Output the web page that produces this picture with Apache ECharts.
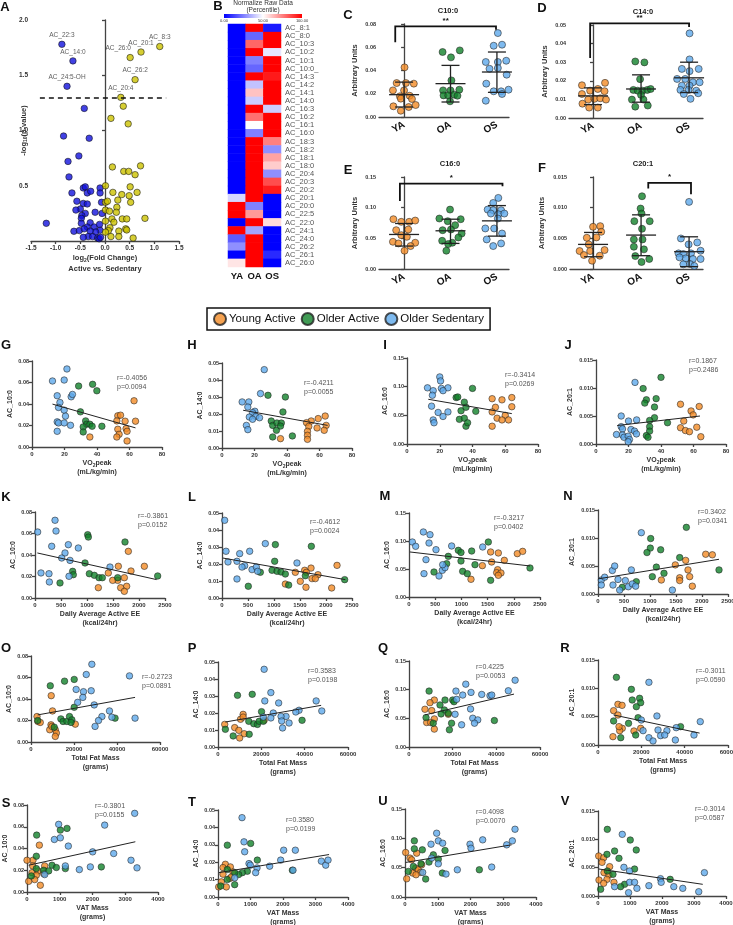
<!DOCTYPE html>
<html><head><meta charset="utf-8">
<script src="https://cdn.jsdelivr.net/npm/echarts@6/dist/echarts.min.js"></script>
<style>html,body{margin:0;padding:0;background:#fff}#c{width:733px;height:925px}</style>
</head><body><div id="c"></div><script>
const FONT = 'Liberation Sans, Arial, sans-serif';
const GROUP_NAMES = ['Young Active','Older Active','Older Sedentary'];
const GROUP_COLORS = ['#F38B26','#11822B','#5EA9EB'];
const CAT_LABELS = ['YA','OA','OS'];

// ---------- Panel A : volcano ----------
const VOLC_DOWN = [[-0.874,1.78,'AC_22:3'],[-0.65,1.63,'AC_14:0'],[-0.77,1.40,'AC_24:5-OH'],
[-0.42,1.20],[-0.84,0.95],[-0.32,0.93],[-0.53,0.77],[-0.75,0.72],[-0.73,0.58],[-0.67,0.435],[-0.44,0.48],[-0.40,0.49],[-0.36,0.435],[-0.29,0.45],[-0.10,0.48],[-0.10,0.435],[-0.57,0.36],[-0.44,0.34],[-0.36,0.335],[-0.50,0.29],[-0.07,0.35],[-0.59,0.28],[-0.40,0.25],[-0.20,0.26],[-0.47,0.23],[-0.48,0.205],[-0.06,0.25],[-1.19,0.16],[-0.48,0.16],[-0.30,0.165],[-0.36,0.127],[-0.22,0.127],[-0.11,0.15],[-0.10,0.097],[-0.19,0.082],[-0.63,0.088],[-0.52,0.094],[-0.42,0.11],[-0.30,0.09],[-0.34,0.04],[-0.44,0.033],[-0.25,0.04],[-0.15,0.027],[-0.12,0.02],[-0.09,0.033]];
const VOLC_UP = [[1.11,1.76,'AC_8:3'],[0.73,1.71,'AC_20:1'],[0.51,1.66,'AC_26:0'],[0.61,1.46,'AC_26:2'],[0.32,1.30,'AC_20:4'],
[0.37,1.22],[0.12,1.11],[0.47,1.06],[0.15,0.67],[0.72,0.68],[0.38,0.63],[0.48,0.63],[0.61,0.60],[0.01,0.50],[0.51,0.49],[0.65,0.44],[0.16,0.44],[0.34,0.42],[0.49,0.41],[0.26,0.37],[0.01,0.35],[0.05,0.36],[0.24,0.305],[0.52,0.35],[0.01,0.28],[0.09,0.27],[0.23,0.26],[0.14,0.20],[0.18,0.17],[0.35,0.20],[0.44,0.20],[0.81,0.205],[0.01,0.18],[0.10,0.12],[0.07,0.094],[0.01,0.08],[0.28,0.09],[0.42,0.11],[0.44,0.10],[0.12,0.04],[0.28,0.04],[0.57,0.027]];
const VOLC_THRESHOLD = 1.3;
const VOLC_THRESHOLD_SPAN = [-1.32, 1.24];

// ---------- Panel B : heatmap ----------
const HM_ROWS = ['AC_8:1','AC_8:0','AC_10:3','AC_10:2','AC_10:1','AC_10:0_','AC_14:3','AC_14:2','AC_14:1','AC_14:0','AC_16:3','AC_16:2','AC_16:1','AC_16:0','AC_18:3','AC_18:2','AC_18:1','AC_18:0','AC_20:4','AC_20:3','AC_20:2','AC_20:1','AC_20:0','AC_22:5','AC_22:0','AC_24:1','AC_24:0','AC_26:2','AC_26:1','AC_26:0'];
const HM_YA = [0,0,0,0,0,0,0,0,0,0,0,0,0,0,0,0,0,0,0,0,0,42,100,100,0,100,18,28,0,55];
const HM_OA = [100,20,80,100,25,20,100,38,62,40,100,78,50,25,100,100,100,100,100,100,100,100,25,70,100,32,100,100,100,100];
const HM_OS = [5,100,100,45,100,100,95,100,100,100,40,100,100,100,75,28,68,60,28,85,95,0,0,0,57,0,0,0,8,0];

// ---------- Panels C-F : dot plots [group + jitter, value] ----------
const C_YA = [[0.01,0.0427],[-0.16,0.0292],[0.04,0.0292],[0.21,0.0287],[-0.24,0.0229],[0,0.0229],[0.12,0.0183],[-0.09,0.0178],[0.17,0.0155],[-0.07,0.0158],[-0.23,0.0092],[0.10,0.0086],[0.25,0.0103],[-0.07,0.0054]];
const C_OA = [[0.83,0.0559],[1.20,0.0573],[1.01,0.0513],[1.02,0.0315],[0.84,0.0229],[1.0,0.0229],[1.19,0.0235],[0.85,0.0186],[0.95,0.0186],[1.08,0.0192],[1.15,0.0183],[0.99,0.0135]];
const C_OS = [[2.02,0.0722],[1.93,0.0613],[2.11,0.0622],[1.76,0.0473],[2.02,0.0473],[2.2,0.0484],[1.84,0.0415],[2.02,0.0421],[2.21,0.0364],[1.77,0.0287],[1.93,0.0221],[2.09,0.0221],[2.25,0.0235],[2.11,0.0198],[1.76,0.0140]];
const C_STATS = [[0,0.0192,0.0086,0.030],[1,0.0287,0.0129,0.0444],[2,0.0387,0.0212,0.0559]];
const C_BRACKET = [-0.19,1.98,0.078,0.0642,0.0751];

const D_YA = [[-0.23,0.0176],[-0.06,0.0147],[0.10,0.0156],[0.25,0.0189],[0.24,0.0144],[-0.23,0.0129],[-0.10,0.0099],[0.03,0.0103],[0.15,0.0106],[0.27,0.0099],[-0.22,0.0077],[-0.08,0.0056],[0.10,0.0056]];
const D_OA = [[0.88,0.0304],[1.07,0.0299],[0.98,0.0209],[0.84,0.0151],[0.93,0.0147],[1.03,0.0147],[1.13,0.0151],[1.20,0.0156],[1.0,0.0124],[0.81,0.0099],[1.05,0.0099],[0.88,0.0061],[1.14,0.0067]];
const D_OS = [[2.01,0.0455],[2.01,0.0315],[1.85,0.0264],[2.01,0.0252],[2.2,0.0264],[1.75,0.0210],[1.92,0.0210],[2.08,0.0192],[2.22,0.0192],[1.85,0.0174],[2.01,0.0174],[1.82,0.0151],[1.99,0.0151],[2.15,0.0147],[1.89,0.0129],[2.19,0.0133],[2.03,0.0103]];
const D_STATS = [[0,0.0119,0.0072,0.0162],[1,0.0156,0.0085,0.0232],[2,0.0216,0.0137,0.0300]];
const D_BRACKET = [-0.06,2.0,0.0509,0.0322,0.0489];

const E_YA = [[-0.23,0.0812],[-0.06,0.0769],[0.11,0.0769],[0.24,0.0790],[-0.17,0.0633],[0.09,0.0644],[-0.06,0.0552],[0.06,0.0525],[-0.24,0.0444],[-0.12,0.0417],[0.24,0.0428],[0.14,0.0374],[0.01,0.0298]];
const E_OA = [[0.99,0.0969],[0.76,0.0823],[1.22,0.0812],[0.94,0.0780],[1.10,0.0715],[0.83,0.0633],[1.01,0.0644],[1.24,0.0579],[1.17,0.0514],[0.82,0.0460],[1.04,0.0428],[0.95,0.0406],[0.91,0.0298]];
const E_OS = [[2.03,0.1159],[1.92,0.1077],[1.80,0.0969],[1.92,0.0958],[2.09,0.0958],[2.27,0.0958],[1.87,0.0904],[2.03,0.0893],[2.16,0.0904],[2.02,0.0823],[1.75,0.0661],[1.94,0.0661],[2.11,0.0579],[1.78,0.0482],[2.27,0.0498],[2.09,0.0417],[1.92,0.0374]];
const E_STATS = [[0,0.0563,0.0374,0.0742],[1,0.0623,0.0417,0.0812],[2,0.0785,0.0536,0.1034]];
const E_BRACKET = [-0.09,2.12,0.1391,0.111,0.1348];

const F_YA = [[0,0.00688],[0.15,0.00699],[0.17,0.00607],[-0.13,0.00509],[0.07,0.00515],[-0.09,0.00401],[-0.28,0.00293],[0.24,0.00309],[-0.06,0.00293],[-0.19,0.00228],[0.14,0.00217],[-0.02,0.00135]];
const F_OA = [[1.02,0.01186],[0.99,0.00986],[1.01,0.00905],[0.86,0.0078],[1.18,0.0078],[1.02,0.00656],[0.85,0.00482],[1.03,0.00482],[0.85,0.00363],[1.06,0.0032],[0.88,0.00211],[1.17,0.00163],[1.01,0.00114]];
const F_OS = [[2.0,0.01094],[1.83,0.00498],[2.17,0.00433],[1.99,0.00401],[2.24,0.00298],[1.78,0.00255],[1.88,0.00244],[2.04,0.00255],[1.93,0.00173],[2.08,0.00163],[2.24,0.00163],[1.80,0.0019],[2.02,0.00081],[2.11,0.00049],[1.88,0.00076]];
const F_STATS = [[0,0.00401,0.00200,0.00596],[1,0.00553,0.00217,0.00883],[2,0.00282,0.00038,0.00525]];
const F_BRACKET = [1.15,2.04,0.01403,0.01311,0.01219];

// ---------- Panels G-V : correlations [x, y] ----------
const G_YA = [[62.8,0.0430],[52.8,0.0290],[54.5,0.0296],[52.2,0.0243],[57.3,0.0240],[63.7,0.0240],[52.8,0.0165],[57.9,0.0171],[58.5,0.0146],[53.6,0.0118],[52.2,0.0093],[35.6,0.0093],[58.5,0.0056]];
const G_OA = [[28.7,0.0567],[37.3,0.0583],[39.9,0.0523],[29.8,0.0327],[33.0,0.0243],[33.6,0.0212],[31.5,0.0187],[35.6,0.0212],[37.0,0.0193],[43.0,0.0193],[31.5,0.0140]];
const G_OS = [[12.6,0.0614],[19.8,0.0623],[21.5,0.0726],[15.5,0.0477],[17.2,0.0414],[16.3,0.0368],[19.8,0.0343],[20.6,0.0287],[24.1,0.0467],[24.9,0.0489],[15.5,0.0234],[16.3,0.0224],[19.8,0.0224],[23.7,0.0202],[15.5,0.0146]];
const G_FIT = [[12.6,0.0399],[63.7,0.0178]];

const H_YA = [[63.5,0.0188],[59.2,0.0173],[54.9,0.0159],[52.0,0.0149],[64.1,0.0133],[53.4,0.0127],[58.5,0.0118],[62.9,0.0104],[52.6,0.0098],[52.6,0.0075],[52.6,0.0051],[36.0,0.0055]];
const H_OA = [[28.3,0.0310],[39.0,0.0300],[37.5,0.0212],[30.3,0.0159],[31.2,0.0133],[33.8,0.0147],[36.5,0.0147],[33.5,0.0104],[31.2,0.0065],[43.3,0.0071],[36.0,0.0129]];
const H_OS = [[26.0,0.0461],[23.7,0.0320],[12.4,0.0271],[16.5,0.0271],[15.9,0.0241],[20.2,0.0216],[18.8,0.0208],[16.8,0.0182],[20.8,0.0186],[23.1,0.0178],[15.0,0.0133],[15.9,0.0108],[18.8,0.0169]];
const H_FIT = [[13.0,0.0222],[65.0,0.0133]];

const I_YA = [[52,0.079],[58,0.077],[64,0.081],[64,0.065],[54,0.064],[52,0.056],[55,0.045],[60,0.050],[58,0.042],[62,0.042],[52,0.031]];
const I_OA = [[30,0.081],[31,0.082],[40,0.097],[35,0.073],[33,0.058],[36,0.064],[32,0.043],[35,0.045],[42,0.057],[36,0.031],[37,0.037]];
const I_OS = [[12.5,0.098],[20,0.117],[20.5,0.110],[16,0.093],[21,0.097],[25,0.098],[22,0.093],[15.5,0.085],[15,0.066],[19,0.055],[16,0.042],[16.5,0.037],[22,0.048],[25,0.056]];
const I_FIT = [[13,0.078],[64,0.053]];

const J_YA = [[52,0.0071],[63.5,0.0067],[58.5,0.0059],[59.8,0.0052],[54,0.0041],[52,0.0029],[55,0.0024],[62,0.0030],[57.5,0.0022],[64.5,0.0013]];
const J_OA = [[40,0.0119],[29,0.0099],[31,0.0079],[30,0.0073],[37,0.0081],[36,0.0066],[36,0.0047],[33,0.0042],[44,0.0038],[33,0.0031],[33,0.0023],[31,0.0015],[32,0.0012]];
const J_OS = [[24,0.011],[15.5,0.005],[20,0.0041],[25,0.0043],[15.5,0.0031],[16.3,0.0027],[21.5,0.0026],[23.7,0.0023],[12.6,0.0017],[16.3,0.0016],[17.2,0.0012],[19.8,0.0014],[20.6,0.0008],[24.9,0.0018],[19.8,0.0004]];
const J_FIT = [[13,0.0033],[64,0.0050]];

const K_YA = [[1795,0.0434],[2103,0.0295],[1603,0.0295],[1846,0.0251],[1410,0.0233],[1590,0.0164],[1494,0.0164],[1718,0.0189],[1763,0.0109],[1647,0.0096],[1218,0.0096],[1718,0.0062]];
const K_OA = [[1013,0.0589],[1026,0.0567],[1731,0.0521],[962,0.0326],[724,0.0248],[737,0.0217],[1045,0.0226],[1141,0.0211],[1231,0.0189],[1295,0.0189],[1590,0.0189],[481,0.0140],[2359,0.0205]];
const K_OS = [[51,0.0614],[385,0.0723],[404,0.0623],[321,0.0481],[641,0.0496],[833,0.0465],[577,0.0419],[513,0.0372],[673,0.0350],[115,0.0233],[269,0.0226],[276,0.0149],[654,0.0202],[1442,0.0288]];
const K_FIT = [[45,0.0419],[2340,0.0171]];

const L_YA = [[2212,0.0192],[1712,0.0176],[1590,0.0163],[1622,0.0151],[1410,0.0151],[1846,0.0137],[1731,0.0114],[1795,0.0114],[1506,0.0098],[1218,0.0082],[1615,0.0063],[2109,0.0059]];
const L_OA = [[1026,0.0314],[1718,0.0304],[1013,0.0216],[962,0.0163],[1058,0.0157],[1135,0.0153],[1218,0.0141],[1282,0.0076],[506,0.0069],[1603,0.0131],[2359,0.0108],[737,0.0151]];
const L_OS = [[51,0.0457],[77,0.0275],[340,0.0261],[115,0.0212],[288,0.0216],[436,0.0190],[385,0.0182],[577,0.0167],[660,0.0182],[686,0.0157],[288,0.0112],[532,0.0275],[833,0.0320],[1442,0.0206]];
const L_FIT = [[19,0.0235],[2372,0.0108]];

const M_YA = [[1705,0.0786],[1558,0.0804],[1577,0.0625],[1819,0.0655],[1400,0.0560],[1692,0.0488],[1673,0.0435],[1755,0.0429],[1705,0.0387],[1183,0.0316],[2067,0.0774],[2169,0.0815]];
const M_OA = [[750,0.0726],[719,0.0595],[477,0.0446],[941,0.0833],[992,0.0795],[992,0.0643],[1024,0.0458],[1113,0.0417],[1196,0.0821],[1259,0.0577],[1514,0.0982],[1558,0.0298],[2309,0.0518]];
const M_OS = [[64,0.0982],[127,0.0905],[274,0.1161],[401,0.1113],[382,0.0964],[515,0.0845],[324,0.0667],[286,0.0417],[573,0.0375],[636,0.0476],[687,0.0524],[643,0.0577],[814,0.0911],[1406,0.0893]];
const M_FIT = [[19,0.0804],[2309,0.0554]];

const N_YA = [[2071,0.0071],[2199,0.0070],[1686,0.0060],[1731,0.0043],[1487,0.0052],[1571,0.0029],[1571,0.0024],[1763,0.0031],[1218,0.0025],[1814,0.0014]];
const N_OA = [[1699,0.0119],[1013,0.0099],[1006,0.0082],[942,0.0074],[1205,0.0079],[1122,0.0048],[1045,0.0031],[1269,0.0037],[1571,0.0065],[737,0.0022],[468,0.0012],[2327,0.0043]];
const N_OS = [[833,0.01095],[64,0.0025],[128,0.0030],[276,0.0042],[321,0.0050],[64,0.0016],[288,0.0016],[385,0.0026],[417,0.0007],[526,0.0024],[583,0.0013],[641,0.0043],[660,0.0018],[724,0.0014],[1430,0.0007]];
const N_FIT = [[0,0.0027],[2327,0.0062]];

const O_YA = [[9400,0.0431],[10000,0.0289],[2800,0.0237],[3200,0.0191],[4300,0.0182],[9300,0.0160],[8700,0.0114],[11300,0.0114],[11800,0.0083],[11300,0.0052],[20600,0.0166],[9700,0.0145]];
const O_OA = [[8970,0.0523],[15600,0.0566],[20100,0.0582],[20100,0.0323],[13900,0.0215],[14900,0.0191],[16700,0.0191],[17900,0.0237],[19000,0.0206],[18600,0.0182],[3100,0.0200],[10800,0.0138],[39100,0.0222]];
const O_OS = [[28300,0.0723],[25700,0.0628],[45800,0.0615],[21000,0.0489],[24400,0.0468],[28000,0.0477],[24100,0.0415],[21700,0.0369],[29400,0.0345],[36500,0.0289],[37600,0.0231],[33000,0.0237],[31400,0.0200],[48400,0.0222],[29800,0.0145]];
const O_FIT = [[3100,0.0252],[48400,0.0415]];

const P_YA = [[11600,0.0192],[10400,0.0163],[11600,0.0176],[3100,0.0133],[7700,0.0114],[9600,0.0098],[12100,0.0078],[10000,0.0053],[21300,0.0157]];
const P_OA = [[9000,0.0304],[15800,0.0310],[20100,0.0208],[14200,0.0151],[16500,0.0137],[18200,0.0133],[19000,0.0151],[20900,0.0151],[38800,0.0157],[3400,0.0104],[7000,0.0065],[14400,0.0075]];
const P_OS = [[21300,0.0457],[24400,0.0320],[21600,0.0271],[28000,0.0259],[45300,0.0271],[47900,0.0212],[37400,0.0216],[35900,0.0206],[25500,0.0200],[31400,0.0180],[29100,0.0180],[24400,0.0171],[29400,0.0153],[32800,0.0141],[29800,0.0112],[20900,0.0176]];
const P_FIT = [[3400,0.0147],[47600,0.0245]];

const Q_YA = [[11600,0.0819],[9600,0.0773],[7300,0.0658],[10400,0.0635],[18000,0.0571],[11600,0.0490],[8100,0.0427],[9900,0.0427],[11600,0.0312]];
const Q_OA = [[9200,0.0975],[16500,0.0819],[20000,0.0819],[20600,0.0790],[14200,0.0733],[16200,0.0646],[18000,0.0588],[14700,0.0577],[7800,0.0513],[39100,0.0462],[19500,0.0415],[18500,0.0300],[11100,0.0415]];
const Q_OS = [[48600,0.1165],[45500,0.0981],[26000,0.1096],[21500,0.0975],[28400,0.0952],[24600,0.0906],[33300,0.0917],[37100,0.0894],[37900,0.0906],[21800,0.0831],[21100,0.0571],[28200,0.0663],[29200,0.0502],[31500,0.0473],[30000,0.0415],[24100,0.0387]];
const Q_FIT = [[7300,0.0560],[48100,0.0923]];

const R_YA = [[9200,0.00718],[11100,0.00700],[7200,0.00606],[9200,0.00529],[11200,0.00294],[10000,0.00253],[16600,0.00247],[9700,0.00324],[6900,0.00147],[19700,0.00294]];
const R_OA = [[8500,0.01194],[15400,0.00982],[19200,0.00824],[15800,0.00794],[19700,0.00747],[17700,0.00676],[18500,0.00482],[7200,0.00424],[14100,0.00382],[17400,0.00176],[10500,0.00129],[38100,0.00324]];
const R_OS = [[23500,0.01106],[27200,0.00512],[20000,0.00441],[47200,0.00412],[36100,0.00306],[27700,0.00265],[20800,0.00253],[31800,0.00253],[28900,0.00165],[30800,0.00176],[23500,0.00129],[25400,0.00071],[35700,0.00088],[44300,0.00176]];
const R_FIT = [[7200,0.0053],[46900,0.0021]];

const S_YA = [[377,0.0431],[183,0.0292],[173,0.0240],[540,0.0240],[336,0.0194],[153,0.0178],[509,0.0169],[285,0.0154],[234,0.0114],[51,0.0098],[407,0.0062],[0,0.0292]];
const S_OA = [[295,0.0523],[1018,0.0569],[1222,0.0585],[285,0.0329],[2270,0.0231],[764,0.0246],[896,0.0225],[1171,0.0215],[285,0.0215],[509,0.0200],[662,0.0194],[132,0.0148]];
const S_OS = [[3288,0.0723],[2372,0.0615],[967,0.0622],[835,0.0483],[1018,0.0498],[1262,0.0422],[2005,0.0369],[2647,0.0354],[3176,0.0292],[3359,0.0222],[1934,0.0231],[1171,0.0240],[1598,0.0206],[540,0.0160]];
const S_FIT = [[51,0.0246],[3308,0.0462]];

const T_YA = [[226,0.0188],[380,0.0173],[154,0.0169],[462,0.0144],[154,0.0131],[359,0.0106],[103,0.0087],[21,0.0058],[256,0.0058],[410,0.0115]];
const T_OA = [[287,0.0298],[1005,0.0308],[1210,0.0212],[903,0.0148],[749,0.0140],[636,0.0129],[513,0.0140],[2288,0.0154],[287,0.0158],[513,0.0071],[82,0.0063],[287,0.0100]];
const T_OS = [[739,0.0456],[800,0.0317],[821,0.0260],[954,0.0192],[995,0.0183],[1200,0.0167],[1159,0.0140],[1590,0.0177],[1929,0.0212],[2021,0.0269],[2380,0.0269],[2308,0.0154],[3180,0.0206],[3314,0.0183],[3386,0.0212],[513,0.0110]];
const T_FIT = [[31,0.0140],[3417,0.0244]];

const U_YA = [[20,0.0759],[356,0.0747],[153,0.0663],[204,0.0634],[326,0.0492],[407,0.0464],[234,0.0408],[479,0.0419],[336,0.0379],[51,0.0311],[509,0.0549]];
const U_OA = [[285,0.0957],[285,0.0821],[529,0.0804],[1222,0.0793],[865,0.0719],[1018,0.0646],[733,0.0595],[489,0.0566],[255,0.0521],[102,0.0436],[1140,0.0408],[2270,0.0464],[631,0.0306]];
const U_OS = [[3359,0.1155],[3278,0.0957],[2372,0.0974],[967,0.1087],[1018,0.0957],[1150,0.0917],[794,0.0900],[1985,0.0900],[2015,0.0832],[814,0.0663],[1018,0.0566],[540,0.0419],[1252,0.0391],[1598,0.0464],[2647,0.0510],[3105,0.0889]];
const U_FIT = [[20,0.0589],[3258,0.089]];

const V_YA = [[21,0.00706],[177,0.00676],[125,0.00594],[364,0.00518],[187,0.00412],[343,0.00371],[280,0.00294],[499,0.00241],[31,0.00282],[177,0.00224]];
const V_OA = [[291,0.01176],[1008,0.00988],[519,0.00794],[1195,0.00812],[280,0.00735],[655,0.00665],[1143,0.00476],[468,0.00382],[2255,0.00294],[831,0.00206],[706,0.00165],[291,0.00441],[83,0.00118]];
const V_OS = [[758,0.01088],[810,0.00506],[987,0.00441],[3325,0.00412],[1953,0.00306],[1974,0.00241],[987,0.00241],[1143,0.00241],[519,0.00165],[1590,0.00182],[2369,0.00165],[2649,0.00135],[3148,0.00076],[956,0.00059],[1216,0.00135]];
const V_FIT = [[31,0.00476],[3273,0.00206]];

// ---------- axis definitions ----------
const X_AXES = {
  vo2:{max:80, interval:20, name:'VO{sub|2}peak\n(mL/kg/min)'},
  ee:{max:2500, interval:500, name:'Daily Average Active EE\n(kcal/24hr)'},
  fat:{max:60000, interval:20000, name:'Total Fat Mass\n(grams)'},
  vat:{max:4000, interval:1000, name:'VAT Mass\n(grams)'}
};
const Y_AXES = {
  ac10:{max:0.08, interval:0.02, dec:2, name:'AC_10:0'},
  ac14:{max:0.05, interval:0.01, dec:2, name:'AC_14:0'},
  ac16:{max:0.15, interval:0.05, dec:2, name:'AC_16:0'},
  ac20:{max:0.015, interval:0.005, dec:3, name:'AC_20:1'}
};

const SCATTER_PANELS = [
  {id:'G', x:'vo2', y:'ac10', data:[G_YA,G_OA,G_OS], fit:G_FIT, r:'r=-0.4056', p:'p=0.0094'},
  {id:'H', x:'vo2', y:'ac14', data:[H_YA,H_OA,H_OS], fit:H_FIT, r:'r=-0.4211', p:'p=0.0055'},
  {id:'I', x:'vo2', y:'ac16', data:[I_YA,I_OA,I_OS], fit:I_FIT, r:'r=-0.3414', p:'p=0.0269'},
  {id:'J', x:'vo2', y:'ac20', data:[J_YA,J_OA,J_OS], fit:J_FIT, r:'r=0.1867', p:'p=0.2486'},
  {id:'K', x:'ee', y:'ac10', data:[K_YA,K_OA,K_OS], fit:K_FIT, r:'r=-0.3861', p:'p=0.0152'},
  {id:'L', x:'ee', y:'ac14', data:[L_YA,L_OA,L_OS], fit:L_FIT, r:'r=-0.4612', p:'p=0.0024'},
  {id:'M', x:'ee', y:'ac16', data:[M_YA,M_OA,M_OS], fit:M_FIT, r:'r=-0.3217', p:'p=0.0402'},
  {id:'N', x:'ee', y:'ac20', data:[N_YA,N_OA,N_OS], fit:N_FIT, r:'r=0.3402', p:'p=0.0341'},
  {id:'O', x:'fat', y:'ac10', data:[O_YA,O_OA,O_OS], fit:O_FIT, r:'r=-0.2723', p:'p=0.0891'},
  {id:'P', x:'fat', y:'ac14', data:[P_YA,P_OA,P_OS], fit:P_FIT, r:'r=0.3583', p:'p=0.0198'},
  {id:'Q', x:'fat', y:'ac16', data:[Q_YA,Q_OA,Q_OS], fit:Q_FIT, r:'r=0.4225', p:'p=0.0053'},
  {id:'R', x:'fat', y:'ac20', data:[R_YA,R_OA,R_OS], fit:R_FIT, r:'r=-0.3011', p:'p=0.0590'},
  {id:'S', x:'vat', y:'ac10', data:[S_YA,S_OA,S_OS], fit:S_FIT, r:'r=-0.3801', p:'p=0.0155'},
  {id:'T', x:'vat', y:'ac14', data:[T_YA,T_OA,T_OS], fit:T_FIT, r:'r=0.3580', p:'p=0.0199'},
  {id:'U', x:'vat', y:'ac16', data:[U_YA,U_OA,U_OS], fit:U_FIT, r:'r=0.4098', p:'p=0.0070'},
  {id:'V', x:'vat', y:'ac20', data:[V_YA,V_OA,V_OS], fit:V_FIT, r:'r=-0.3014', p:'p=0.0587'}
];
// layout (pixels)
const SCATTER_LAYOUT = {
  G:{l:32,t:361,w:130,h:86,L:[6,345],S:[117,374]}, H:{l:222,t:363,w:130,h:85,L:[192,345],S:[304,379]},
  I:{l:407,t:358,w:131,h:86,L:[385,345],S:[505,371]}, J:{l:596,t:360,w:130,h:84,L:[568,345],S:[689,357]},
  K:{l:35,t:512,w:130,h:86,L:[6,497],S:[138,512]}, L:{l:222,t:513,w:130,h:85,L:[192,497],S:[310,518]},
  M:{l:409,t:513,w:131,h:84,L:[385,496],S:[494,514]}, N:{l:598,t:510,w:130,h:84,L:[568,496],S:[698,508]},
  O:{l:31,t:656,w:129,h:86,L:[6,648],S:[142,673]}, P:{l:218,t:662,w:130,h:85,L:[192,648],S:[308,667]},
  Q:{l:409,t:661,w:131,h:86,L:[383,648],S:[476,663]}, R:{l:598,t:660,w:130,h:85,L:[565,648],S:[696,667]},
  S:{l:27,t:805,w:131,h:87,L:[6,803],S:[95,802]}, T:{l:218,t:810,w:130,h:87,L:[192,802],S:[286,816]},
  U:{l:405,t:809,w:131,h:88,L:[383,801],S:[476,808]}, V:{l:598,t:811,w:128,h:85,L:[565,801],S:[695,805]}
};
const DOT_PANELS = [
  {id:'C', title:'C10:0', data:[C_YA,C_OA,C_OS], stats:C_STATS, bracket:C_BRACKET, star:'**', y:{max:0.08, interval:0.02, dec:2},
   lay:{l:379,t:24,w:130,h:93,xmin:-0.54,xmax:2.26,L:[348,15],T:[448,11]}},
  {id:'D', title:'C14:0', data:[D_YA,D_OA,D_OS], stats:D_STATS, bracket:D_BRACKET, star:'**', y:{max:0.05, interval:0.01, dec:2},
   lay:{l:569,t:25,w:134,h:93,xmin:-0.5,xmax:2.29,L:[542,8],T:[643,12]}},
  {id:'E', title:'C16:0', data:[E_YA,E_OA,E_OS], stats:E_STATS, bracket:E_BRACKET, star:'*', y:{max:0.15, interval:0.05, dec:2},
   lay:{l:379,t:177,w:130,h:92,xmin:-0.54,xmax:2.26,L:[348,170],T:[450,164]}},
  {id:'F', title:'C20:1', data:[F_YA,F_OA,F_OS], stats:F_STATS, bracket:F_BRACKET, star:'*', y:{max:0.015, interval:0.005, dec:3},
   lay:{l:570,t:177,w:133,h:92,xmin:-0.48,xmax:2.29,L:[542,168],T:[643,164]}}
];

// ---------- build ----------
const AX = {color:'#444', width:1.3};
const TICK = {fontSize:6, fontWeight:'bold', color:'#333', fontFamily:FONT};
const NAME = {fontSize:7, fontWeight:'bold', color:'#333', fontFamily:FONT};
const RICH = {sub:{fontSize:5, fontWeight:'bold', color:'#333', fontFamily:FONT, padding:[4,0,0,0]}};
const grid=[], xAxis=[], yAxis=[], series=[], graphic=[];
const mkGrid = (l,t,w,h)=>({left:l, top:t, width:w, height:h, containLabel:false, outerBoundsMode:'none'});
const letter = (t,x,y)=>graphic.push({type:'text', x, y, style:{text:t, font:'bold 13px '+FONT, fill:'#111', textAlign:'center', textVerticalAlign:'middle'}});
const txt = (t,x,y,s)=>graphic.push({type:'text', x, y, style:Object.assign({text:t, fontFamily:FONT, fill:'#333', textAlign:'center', textVerticalAlign:'middle'}, s)});

// A
grid.push(mkGrid(31,20,148,221));
xAxis.push({gridIndex:0, type:'value', min:-1.5, max:1.5, interval:0.5, splitLine:{show:false},
  axisLine:{onZero:false, lineStyle:AX}, axisTick:{length:3, lineStyle:AX},
  axisLabel:Object.assign({}, TICK, {fontSize:6.5, margin:4, formatter:v=>v.toFixed(1)}),
  name:'log{sub|2}(Fold Change)\nActive vs. Sedentary', nameLocation:'middle', nameGap:11,
  nameTextStyle:Object.assign({}, NAME, {fontSize:7.5, lineHeight:11, rich:RICH})});
yAxis.push({gridIndex:0, type:'value', min:0, max:2.0, interval:0.5, splitLine:{show:false},
  axisLine:{onZero:true, lineStyle:AX}, axisTick:{length:3, lineStyle:AX},
  axisLabel:Object.assign({}, TICK, {fontSize:6.5, margin:3, formatter:v=>v===0?'':v.toFixed(1)})});
// second, invisible y axis on the left edge that only carries the axis title
yAxis.push({gridIndex:0, type:'value', min:0, max:2.0, interval:0.5, position:'left', splitLine:{show:false},
  axisLine:{show:false, onZero:false}, axisTick:{show:false}, axisLabel:{show:false},
  name:'-log{sub|10}(p-value)', nameLocation:'middle', nameGap:3,
  nameTextStyle:Object.assign({}, NAME, {fontSize:7.5, rich:RICH})});
const volcLabel = {show:true, position:'top', distance:2, fontSize:6.5, color:'#333', fontFamily:FONT, formatter:p=>p.value[2]||''};
const volcItem = v=>({value:v, label: v[2]==='AC_26:0' ? {offset:[-12,0]} : undefined});
series.push({type:'scatter', xAxisIndex:0, yAxisIndex:0, data:VOLC_DOWN.map(volcItem), symbolSize:6.5,
  itemStyle:{color:'#1111DD', borderColor:'#111', borderWidth:0.7}, label:volcLabel, z:3,
  markLine:{silent:true, symbol:'none', label:{show:false}, lineStyle:{type:[5,4], color:'#111', width:1.6},
    data:[[{coord:[VOLC_THRESHOLD_SPAN[0],VOLC_THRESHOLD]},{coord:[VOLC_THRESHOLD_SPAN[1],VOLC_THRESHOLD]}]]}});
series.push({type:'scatter', xAxisIndex:0, yAxisIndex:0, data:VOLC_UP.map(volcItem), symbolSize:6.5,
  itemStyle:{color:'#CCC200', borderColor:'#111', borderWidth:0.7}, label:volcLabel, z:3});
letter('A',5,7);

// B
const hmGrid = grid.length;
grid.push(mkGrid(228,24,53,243));
const hmX = xAxis.length, hmY = yAxis.length;
xAxis.push({gridIndex:hmGrid, type:'category', data:CAT_LABELS, axisLine:{show:false}, axisTick:{show:false},
  axisLabel:{interval:0, fontSize:9.5, fontWeight:'bold', color:'#111', fontFamily:FONT, margin:4}});
yAxis.push({gridIndex:hmGrid, type:'category', data:HM_ROWS, inverse:true, position:'right', axisLine:{show:false}, axisTick:{show:false},
  axisLabel:{interval:0, fontSize:7.5, color:'#555', fontFamily:FONT, margin:4}});
const hmData = [];
HM_ROWS.forEach((r,i)=>{ hmData.push([0,i,HM_YA[i]],[1,i,HM_OA[i]],[2,i,HM_OS[i]]); });
const hmIndex = series.length;
series.push({type:'heatmap', xAxisIndex:hmX, yAxisIndex:hmY, data:hmData, itemStyle:{borderWidth:0}});
letter('B',218,6);
graphic.push({type:'rect', shape:{x:224, y:14, width:78, height:4},
  style:{fill:new echarts.graphic.LinearGradient(0,0,1,0,[{offset:0,color:'#0000FF'},{offset:0.5,color:'#FFFFFF'},{offset:1,color:'#FF0000'}])}});
txt('Normalize Raw Data',263,3,{fontSize:6.5});
txt('(Percentile)',263,10,{fontSize:6.5});
txt('0.00',224,21,{fontSize:4});
txt('50.00',263,21,{fontSize:4});
txt('100.00',302,21,{fontSize:4});

// C-F
DOT_PANELS.forEach(P=>{
  const gi = grid.length, xi = xAxis.length, yi = yAxis.length, L = P.lay;
  grid.push(mkGrid(L.l, L.t, L.w, L.h));
  xAxis.push({gridIndex:gi, type:'value', min:L.xmin, max:L.xmax, splitLine:{show:false},
    axisLine:{onZero:false, lineStyle:AX}, axisTick:{show:false},
    axisLabel:{customValues:[0,1,2], formatter:v=>CAT_LABELS[Math.round(v)], rotate:30, fontSize:10, fontWeight:'bold', color:'#111', fontFamily:FONT, margin:7}});
  yAxis.push({gridIndex:gi, type:'value', min:0, max:P.y.max, interval:P.y.interval, splitLine:{show:false},
    axisLine:{lineStyle:AX}, axisTick:{length:3, lineStyle:AX},
    axisLabel:Object.assign({}, TICK, {fontSize:5.5, margin:3, formatter:v=>v.toFixed(P.y.dec)}),
    name:'Arbitrary Units', nameLocation:'middle', nameGap:P.y.dec===3?24:20, nameTextStyle:Object.assign({}, NAME, {fontSize:7.5})});
  P.data.forEach((d,g)=>series.push({type:'scatter', name:GROUP_NAMES[g], xAxisIndex:xi, yAxisIndex:yi, data:d, symbolSize:7,
    itemStyle:{color:GROUP_COLORS[g], borderColor:'#222', borderWidth:0.7}, z:2}));
  series.push({type:'custom', xAxisIndex:xi, yAxisIndex:yi, data:P.stats, z:4, silent:true,
    renderItem:(p,api)=>{
      const m=api.coord([api.value(0),api.value(1)]), lo=api.coord([api.value(0),api.value(2)]), hi=api.coord([api.value(0),api.value(3)]);
      const st={stroke:'#222', lineWidth:1.3};
      return {type:'group', children:[
        {type:'line', shape:{x1:m[0]-15,y1:m[1],x2:m[0]+15,y2:m[1]}, style:st},
        {type:'line', shape:{x1:lo[0],y1:lo[1],x2:hi[0],y2:hi[1]}, style:st},
        {type:'line', shape:{x1:hi[0]-9,y1:hi[1],x2:hi[0]+9,y2:hi[1]}, style:st},
        {type:'line', shape:{x1:lo[0]-9,y1:lo[1],x2:lo[0]+9,y2:lo[1]}, style:st}]};
    }});
  series.push({type:'custom', xAxisIndex:xi, yAxisIndex:yi, data:[P.bracket], z:4, silent:true,
    renderItem:(p,api)=>{
      const a=api.coord([api.value(0),api.value(3)]), b=api.coord([api.value(0),api.value(2)]),
            c=api.coord([api.value(1),api.value(2)]), d=api.coord([api.value(1),api.value(4)]);
      return {type:'group', children:[
        {type:'polyline', shape:{points:[a,b,c,d]}, style:{stroke:'#111', lineWidth:1.8, fill:null}},
        {type:'text', x:(b[0]+c[0])/2, y:b[1]-2, style:{text:P.star, textAlign:'center', textVerticalAlign:'bottom', fontSize:8, fontWeight:'bold', fontFamily:FONT, fill:'#111'}}]};
    }});
  letter(P.id, L.L[0], L.L[1]);
  txt(P.title, L.T[0], L.T[1], {fontSize:7.5, fontWeight:'bold', fill:'#222'});
});

// G-V
SCATTER_PANELS.forEach(P=>{
  const gi = grid.length, xi = xAxis.length, yi = yAxis.length, L = SCATTER_LAYOUT[P.id], xa = X_AXES[P.x], ya = Y_AXES[P.y];
  grid.push(mkGrid(L.l, L.t, L.w, L.h));
  xAxis.push({gridIndex:gi, type:'value', min:0, max:xa.max, interval:xa.interval, splitLine:{show:false},
    axisLine:{onZero:false, lineStyle:AX}, axisTick:{length:3, lineStyle:AX},
    axisLabel:Object.assign({}, TICK, {margin:4, formatter:v=>String(v)}),
    name:xa.name, nameLocation:'middle', nameGap:12, nameTextStyle:Object.assign({}, NAME, {lineHeight:9, rich:RICH})});
  yAxis.push({gridIndex:gi, type:'value', min:0, max:ya.max, interval:ya.interval, splitLine:{show:false},
    axisLine:{onZero:false, lineStyle:AX}, axisTick:{length:3, lineStyle:AX},
    axisLabel:Object.assign({}, TICK, {fontSize:5.5, margin:3, formatter:v=>v.toFixed(ya.dec)}),
    name:ya.name, nameLocation:'middle', nameGap:ya.dec===3?22:18, nameTextStyle:NAME});
  P.data.forEach((d,g)=>series.push({type:'scatter', name:GROUP_NAMES[g], xAxisIndex:xi, yAxisIndex:yi, data:d, symbolSize:6.5,
    itemStyle:{color:GROUP_COLORS[g], borderColor:'#222', borderWidth:0.7}, z:2}));
  series.push({type:'line', xAxisIndex:xi, yAxisIndex:yi, data:P.fit, symbol:'none', silent:true,
    lineStyle:{color:'#222', width:1}, z:3});
  letter(P.id, L.L[0], L.L[1]);
  graphic.push({type:'text', x:L.S[0], y:L.S[1], style:{text:P.r+'\n'+P.p, fontFamily:FONT, fontSize:7, lineHeight:9, fill:'#555', textAlign:'left', textVerticalAlign:'top'}});
});

const chart = echarts.init(document.getElementById('c'), null, {renderer:'canvas'});
chart.setOption({
  animation:false, backgroundColor:'#fff',
  textStyle:{fontFamily:FONT},
  grid, xAxis, yAxis, series, graphic,
  visualMap:{show:false, type:'continuous', min:0, max:100, seriesIndex:hmIndex, inRange:{color:['#0000FF','#FFFFFF','#FF0000']}},
  legend:{data:GROUP_NAMES, left:207, top:308, orient:'horizontal', icon:'circle', itemWidth:12, itemHeight:12, itemGap:5,
    borderColor:'#111', borderWidth:1.5, padding:[4,6], selectedMode:false,
    textStyle:{fontSize:11.5, color:'#111', fontFamily:FONT, padding:[0,0,0,-2]}}
});
</script></body></html>
